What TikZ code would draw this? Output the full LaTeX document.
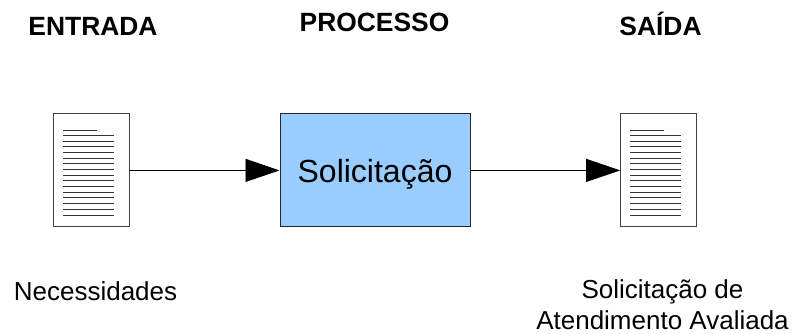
\documentclass[tikz,border=0pt]{standalone}
\usepackage{fontspec}
\setmainfont{Liberation Sans}
\usetikzlibrary{arrows.meta}
\tikzset{
  doc/.style={draw=black!75,fill=white,line width=1pt,minimum width=76pt,minimum height=113pt,inner sep=0pt},
  proc/.style={draw=black!85,fill={rgb,255:red,153;green,204;blue,255},line width=1pt,minimum width=190pt,minimum height=113pt,inner sep=0pt,text height=23.4pt,text depth=0pt,font=\fontsize{32}{36}\selectfont},
  title/.style={font=\fontsize{26.4}{30}\selectfont\bfseries,inner sep=0pt,anchor=base},
  caption/.style={font=\fontsize{26}{31}\selectfont,align=center,inner sep=0pt,anchor=base},
  txtline/.style={line width=1pt,black!80},
  conn/.style={->,line width=0.8pt}
}
\begin{document}
\begin{tikzpicture}[x=1pt,y=-1pt,>={Triangle[length=34pt,width=23pt]}]
\useasboundingbox (0,0) rectangle (793,333);
\node[title] (t_in) at (93,35) {ENTRADA};
\node[title] (t_proc) at (374.5,31.5) {PROCESSO};
\node[title] (t_out) at (660.5,35) {SAÍDA};
\node[doc] (d_in) at (91.3,170.4) {};
\node[proc] (p_sol) at (375,170.4) {Solicitação};
\node[doc] (d_out) at (658.7,170.4) {};
\foreach \n in {d_in,d_out} {
  \draw[txtline] ([shift={(10,16.7)}]\n.north west) -- +(34,0);
  \foreach \k in {0,...,14}
    \draw[txtline] ([shift={(10,{22+\k*5.69})}]\n.north west) -- +(50.7,0);
}
\draw[conn] (d_in) -- (p_sol);
\draw[conn] (p_sol) -- (d_out);
\node[caption] (c_in) at (95.5,300) {Necessidades};
\node[caption] (c_out) at (662.5,329) {Solicitação de\\Atendimento Avaliada};
\end{tikzpicture}
\end{document}
